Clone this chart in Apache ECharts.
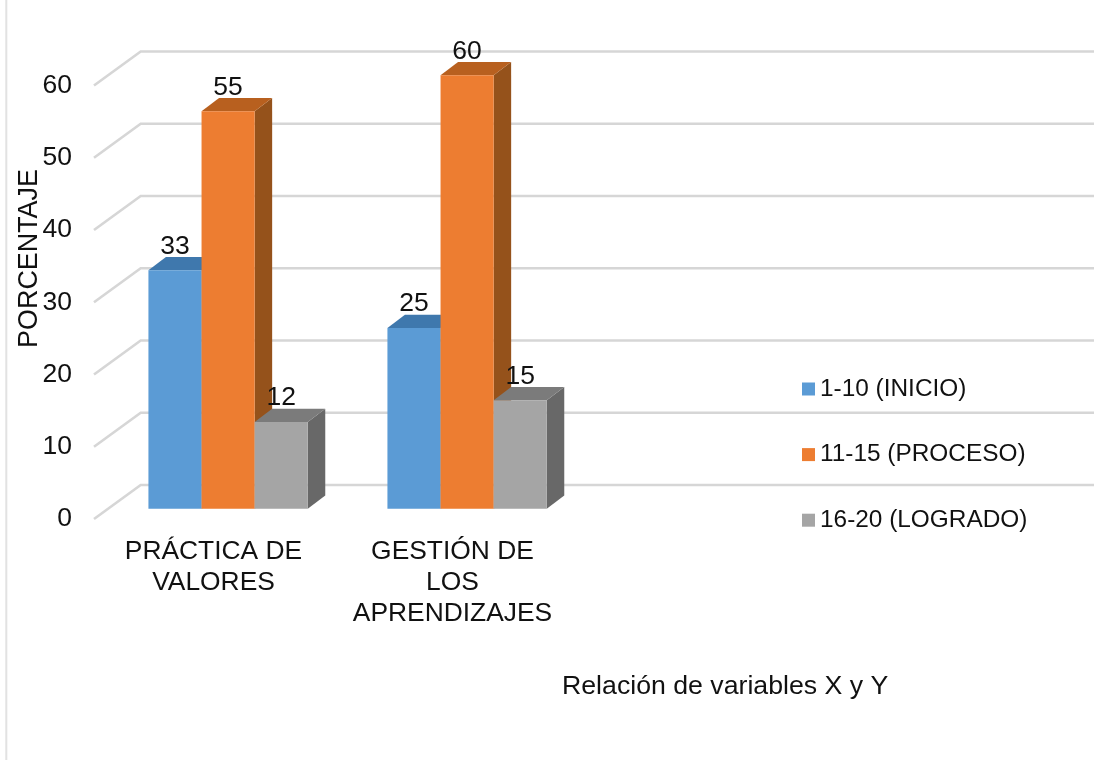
<!DOCTYPE html>
<html>
<head>
<meta charset="utf-8">
<style>html,body{margin:0;padding:0;background:#fff}#c{width:1094px;height:760px}</style>
<script src="https://cdn.jsdelivr.net/npm/echarts@6/dist/echarts.min.js"></script>
</head>
<body>
<div id="c"></div>
<script>
var categories = ['PRÁCTICA DE\nVALORES', 'GESTIÓN DE\nLOS\nAPRENDIZAJES'];
var emptyCategories = ['', ''];
var seriesNames = ['1-10 (INICIO)', '11-15 (PROCESO)', '16-20 (LOGRADO)'];
var inicio = [33, 25];
var proceso = [55, 60];
var logrado = [12, 15];
var yTicks = [0, 10, 20, 30, 40, 50, 60];
var xTitle = 'Relación de variables X y Y';
var yTitle = 'PORCENTAJE';

var front = ['#5b9bd5', '#ed7d31', '#a5a5a5'];
var topFace = ['#3f78ad', '#b8601f', '#7b7b7b'];
var sideFace = ['#426f9b', '#95521b', '#686868'];
var FONT = '"Liberation Sans", Arial, sans-serif';
var TEXT = '#111';

var WALL_DX = 46.7, WALL_DY = 34;
var BAR_DX = 14.6, BAR_DY = 10.3;
var DEPTH_DX = 17.5, DEPTH_DY = 13.3;

function wallRender(params, api) {
  var v = api.value(0);
  var y = api.coord([0, v])[1];
  var x0 = params.coordSys.x;
  return {
    type: 'polyline', silent: true,
    shape: { points: [[x0, y], [x0 + WALL_DX, y - WALL_DY], [1094, y - WALL_DY]] },
    style: { stroke: '#d6d6d6', lineWidth: 2.6, fill: null }
  };
}

function barRender(i) {
  return function (params, api) {
    var c = api.value(0), v = api.value(1);
    var band = api.size([1, 0])[0];
    var w = band / 4.5;
    var base = api.coord([c, 0]);
    var top = api.coord([c, v]);
    var xL = base[0] + BAR_DX + (i - 1.5) * w;
    var xR = xL + w;
    var yB = base[1] - BAR_DY;
    var yT = top[1] - BAR_DY;
    var dx = DEPTH_DX, dy = DEPTH_DY;
    return {
      type: 'group',
      children: [
        { type: 'polygon', shape: { points: [[xR, yT], [xR + dx, yT - dy], [xR + dx, yB - dy], [xR, yB]] }, style: { fill: sideFace[i] } },
        { type: 'polygon', shape: { points: [[xL, yT], [xL + dx, yT - dy], [xR + dx, yT - dy], [xR, yT]] }, style: { fill: topFace[i] } },
        { type: 'rect', shape: { x: xL, y: yT, width: w, height: yB - yT }, style: { fill: front[i] } },
        { type: 'text', style: { text: String(v), x: (xL + xR) / 2, y: yT - 24, align: 'center', verticalAlign: 'middle', fontSize: 26.5, fontFamily: FONT, fill: TEXT } }
      ]
    };
  };
}

function barSeries(i, values) {
  return {
    type: 'custom', name: seriesNames[i], coordinateSystem: 'cartesian2d',
    itemStyle: { color: front[i] },
    encode: { x: 0, y: 1 },
    data: values.map(function (v, c) { return [c, v]; }),
    renderItem: barRender(i), z: 3
  };
}

var chart = echarts.init(document.getElementById('c'), null, { renderer: 'canvas' });
chart.setOption({
  animation: false,
  backgroundColor: '#fff',
  color: front,
  textStyle: { fontFamily: FONT },
  grid: { left: 94, top: 85.5, width: 956, height: 433.5 },
  xAxis: {
    type: 'category', data: categories.concat(emptyCategories),
    axisLine: { show: false }, axisTick: { show: false }, splitLine: { show: false },
    axisLabel: { interval: 0, margin: 17, fontSize: 26.4, lineHeight: 31, color: TEXT, fontFamily: FONT }
  },
  yAxis: {
    type: 'value', min: 0, max: 60, interval: 10,
    axisLine: { show: false }, axisTick: { show: false }, splitLine: { show: false },
    axisLabel: { margin: 22, fontSize: 26.5, color: TEXT, fontFamily: FONT, padding: [0, 0, 3, 0] }
  },
  legend: {
    orient: 'vertical', left: 797, top: 370, icon: 'rect', itemWidth: 13, itemHeight: 13,
    itemGap: 37.6, data: seriesNames,
    selectedMode: false,
    textStyle: { fontSize: 24.4, lineHeight: 28, color: TEXT, fontFamily: FONT }
  },
  title: {
    text: xTitle, left: 557, top: 668,
    textStyle: { fontSize: 26.7, fontWeight: 'normal', color: TEXT, fontFamily: FONT }
  },
  graphic: [
    { type: 'rect', silent: true, shape: { x: 5.3, y: 0, width: 2, height: 760 }, style: { fill: '#e2e2e2' } },
    { type: 'text', silent: true, x: 30, y: 258.5, rotation: Math.PI / 2,
      style: { text: yTitle, align: 'center', verticalAlign: 'middle', fontSize: 26.9, fontFamily: FONT, fill: TEXT } }
  ],
  series: [
    { type: 'custom', name: 'wall', coordinateSystem: 'cartesian2d', data: yTicks.map(function (t) { return [t]; }),
      encode: { y: 0 }, renderItem: wallRender, z: 1, silent: true }
  ].concat([barSeries(0, inicio), barSeries(1, proceso), barSeries(2, logrado)])
});
</script>
</body>
</html>
